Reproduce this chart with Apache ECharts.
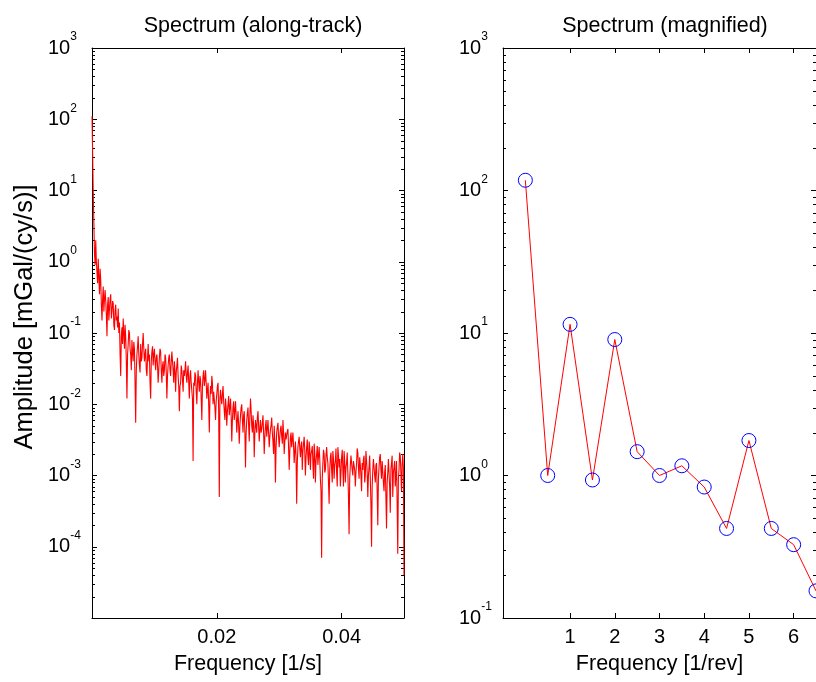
<!DOCTYPE html>
<html>
<head>
<meta charset="utf-8">
<script src="https://cdn.jsdelivr.net/npm/echarts@6/dist/echarts.min.js"></script>
<style>
  html, body { margin: 0; padding: 0; background: #fff; }
  #chart { width: 816px; height: 682px; }
</style>
</head>
<body>
<div id="chart"></div>
<script>
// along-track spectrum, one value every freqStep [1/s]
const freqStep = 0.0001
const alongTrackAmp = [
  110, 35, 9, 3.5, 1.3, 0.9, 2.0, 1.0, 0.7, 0.5,
  1.1, 0.6, 0.35, 0.8, 0.55, 0.25, 0.15, 0.3, 0.45, 0.2,
  0.3, 0.4, 0.28, 0.18, 0.09, 0.25, 0.32, 0.15, 0.22, 0.3,
  0.35, 0.16, 0.2, 0.28, 0.26, 0.13, 0.11, 0.21, 0.25, 0.15,
  0.17, 0.12, 0.22, 0.1, 0.14, 0.05, 0.025, 0.09, 0.12, 0.07,
  0.16, 0.1, 0.06, 0.13, 0.09, 0.04, 0.012, 0.05, 0.07, 0.11,
  0.1, 0.06, 0.05, 0.03, 0.08, 0.055, 0.04, 0.075, 0.06, 0.02,
  0.0055, 0.03, 0.05, 0.065, 0.09, 0.05, 0.035, 0.028, 0.07, 0.04,
  0.045, 0.07, 0.1, 0.06, 0.04, 0.05, 0.06, 0.03, 0.025, 0.045,
  0.07, 0.04, 0.05, 0.02, 0.012, 0.04, 0.055, 0.065, 0.035, 0.05,
  0.06, 0.04, 0.03, 0.045, 0.05, 0.035, 0.02, 0.03, 0.045, 0.06,
  0.055, 0.03, 0.02, 0.035, 0.04, 0.025, 0.03, 0.05, 0.045, 0.028,
  0.012, 0.025, 0.035, 0.045, 0.05, 0.03, 0.025, 0.04, 0.055, 0.04,
  0.03, 0.02, 0.04, 0.03, 0.015, 0.028, 0.035, 0.045, 0.025, 0.018,
  0.008, 0.018, 0.02, 0.035, 0.03, 0.022, 0.015, 0.03, 0.025, 0.03,
  0.04, 0.025, 0.02, 0.028, 0.035, 0.02, 0.012, 0.025, 0.03, 0.02,
  0.02, 0.012, 0.0016, 0.02, 0.018, 0.028, 0.025, 0.015, 0.01, 0.02,
  0.03, 0.02, 0.015, 0.025, 0.022, 0.012, 0.006, 0.018, 0.025, 0.03,
  0.018, 0.022, 0.03, 0.02, 0.012, 0.016, 0.02, 0.01, 0.004, 0.012,
  0.018, 0.014, 0.025, 0.02, 0.01, 0.015, 0.015, 0.009, 0.006, 0.011,
  0.014, 0.018, 0.02, 0.008, 0.0005, 0.012, 0.016, 0.012, 0.01, 0.014,
  0.018, 0.011, 0.008, 0.006, 0.012, 0.009, 0.005, 0.008, 0.01, 0.013,
  0.007, 0.009, 0.012, 0.007, 0.003, 0.006, 0.009, 0.011, 0.006, 0.008,
  0.011, 0.007, 0.004, 0.006, 0.008, 0.005, 0.0028, 0.005, 0.007, 0.009,
  0.01, 0.006, 0.004, 0.007, 0.008, 0.004, 0.0013, 0.004, 0.006, 0.0075,
  0.009, 0.005, 0.003, 0.007, 0.012, 0.008, 0.005, 0.004, 0.007, 0.005,
  0.0018, 0.004, 0.006, 0.005, 0.004, 0.0065, 0.008, 0.005, 0.003, 0.0045,
  0.006, 0.004, 0.0045, 0.0055, 0.007, 0.004, 0.002, 0.0035, 0.005, 0.006,
  0.0035, 0.0045, 0.006, 0.004, 0.0025, 0.0035, 0.0045, 0.005, 0.0065, 0.004,
  0.003, 0.002, 0.005, 0.003, 0.0008, 0.0025, 0.004, 0.0048, 0.0055, 0.0035,
  0.0025, 0.0035, 0.0045, 0.005, 0.0035, 0.0028, 0.006, 0.004, 0.002, 0.003,
  0.004, 0.0032, 0.003, 0.0042, 0.0045, 0.0025, 0.0012, 0.0022, 0.0035, 0.004,
  0.0025, 0.0032, 0.004, 0.0026, 0.0015, 0.0022, 0.003, 0.0018, 0.0004, 0.0015,
  0.0025, 0.003, 0.0035, 0.0024, 0.0018, 0.0026, 0.003, 0.0012, 0.0022, 0.0028,
  0.0035, 0.0022, 0.001, 0.0018, 0.0025, 0.0032, 0.0018, 0.0014, 0.003, 0.0024,
  0.0012, 0.002, 0.0022, 0.0026, 0.0015, 0.0009, 0.0028, 0.0021, 0.0008, 0.0016,
  0.002, 0.0026, 0.0014, 0.0019, 0.0025, 0.0017, 0.0009, 0.0006, 0.00007, 0.0009,
  0.0015, 0.0023, 0.002, 0.0011, 0.0012, 0.0019, 0.0025, 0.0018, 0.0015, 0.0008,
  0.0004, 0.0012, 0.0018, 0.0021, 0.0012, 0.0008, 0.0022, 0.0017, 0.0009, 0.0014,
  0.0016, 0.0024, 0.0011, 0.0007, 0.0025, 0.0019, 0.0013, 0.0017, 0.0007, 0.0011,
  0.0018, 0.0023, 0.0012, 0.0007, 0.0022, 0.0016, 0.0008, 0.0013, 0.0015, 0.0021,
  0.0011, 0.0005, 0.00015, 0.0009, 0.0014, 0.0019, 0.002, 0.0012, 0.001, 0.0016,
  0.0017, 0.0012, 0.0007, 0.0011, 0.0015, 0.0024, 0.0021, 0.0013, 0.0009, 0.0018,
  0.0014, 0.001, 0.0006, 0.0015, 0.0012, 0.0017, 0.0019, 0.0008, 0.001, 0.0022,
  0.0016, 0.0011, 0.0005, 0.001, 0.0013, 0.0019, 0.0009, 0.0004, 0.0001, 0.0007,
  0.0012, 0.0017, 0.0018, 0.001, 0.0008, 0.0014, 0.0015, 0.0006, 0.0002, 0.0009,
  0.0013, 0.0018, 0.002, 0.0012, 0.0009, 0.0016, 0.0015, 0.0008, 0.0006, 0.0011,
  0.0014, 0.0005, 0.00018, 0.0008, 0.0011, 0.0017, 0.0018, 0.0007, 0.0003, 0.0012,
  0.0015, 0.0019, 0.0005, 0.0011, 0.0013, 0.0016, 0.0007, 0.001, 0.0016, 0.0004,
  0.00008, 0.0009, 0.0012, 0.0021, 0.0019, 0.0011, 0.0006, 0.0014, 0.002, 0.0013,
  0.00004
]

// magnified spectrum, frequency in 1/rev
const revFreq = [0, 0.5, 1, 1.5, 2, 2.5, 3, 3.5, 4, 4.5, 5, 5.5, 6, 6.5]
const revAmp = [118, 1.0, 11.5, 0.93, 9.0, 1.47, 1.0, 1.17, 0.83, 0.425, 1.76, 0.425, 0.327, 0.155]

// tick positions
const leftXTicks = [0.02, 0.04]
const rightXTicks = [1, 2, 3, 4, 5, 6]
const leftYRange = [1e-5, 1e3]
const rightYRange = [1e-1, 1e3]
const leftXRange = [0, 0.05]
const rightXRange = [-0.5, 6.5]

const alongTrackData = alongTrackAmp.map((v, i) => [+(i * freqStep).toFixed(4), v])
const revData = revFreq.map((f, i) => [f, revAmp[i]])

// 2..9 x 10^k minor ticks for a log axis
function minorTicks(range, xMin) {
  const out = []
  const lo = Math.round(Math.log10(range[0]))
  const hi = Math.round(Math.log10(range[1]))
  for (let e = lo; e < hi; e++) {
    for (let m = 2; m <= 9; m++) out.push([xMin, m * Math.pow(10, e)])
  }
  return out
}

function minorTickRender(xMin, xMax) {
  return function (params, api) {
    const v = api.value(1)
    const a = api.coord([xMin, v])
    const b = api.coord([xMax, v])
    const y = Math.round(a[1]) + 0.5
    return {
      type: 'group',
      children: [
        { type: 'line', shape: { x1: a[0], y1: y, x2: a[0] + 3, y2: y }, style: { stroke: '#000', lineWidth: 1 } },
        { type: 'line', shape: { x1: b[0] - 3, y1: y, x2: b[0], y2: y }, style: { stroke: '#000', lineWidth: 1 } }
      ]
    }
  }
}

const font = 'Liberation Sans, Arial, Helvetica, sans-serif'

// 10^n labels
const logLabel = {
  show: true,
  align: 'left',
  margin: 44,
  fontFamily: font,
  formatter: function (value) {
    const e = Math.round(Math.log10(value))
    if (e === -5) return ''
    return '{b|10}{e|' + e + '}'
  },
  rich: {
    b: { fontSize: 20, lineHeight: 34, color: '#000', fontFamily: font },
    e: { fontSize: 12, lineHeight: 12, verticalAlign: 'top', color: '#000', fontFamily: font }
  }
}

const axisLine = { show: true, onZero: false, lineStyle: { color: '#000', width: 1 } }
const axisTick = { show: true, inside: true, length: 5, lineStyle: { color: '#000', width: 1 } }

function xAxisPair(gridIndex, range, ticks, name) {
  return [
    {
      gridIndex, type: 'value', position: 'bottom', min: range[0], max: range[1],
      name, nameLocation: 'middle', nameGap: 35,
      nameTextStyle: { fontSize: 21.5, color: '#000', fontFamily: font },
      axisLine, splitLine: { show: false },
      axisTick: Object.assign({ customValues: ticks }, axisTick),
      axisLabel: { customValues: ticks, fontSize: 20, color: '#000', margin: 9, fontFamily: font }
    },
    {
      gridIndex, type: 'value', position: 'top', min: range[0], max: range[1],
      axisLine, splitLine: { show: false },
      axisTick: Object.assign({ customValues: ticks }, axisTick),
      axisLabel: { show: false }
    }
  ]
}

function yAxisPair(gridIndex, range, name) {
  const left = {
    gridIndex, type: 'log', logBase: 10, position: 'left', min: range[0], max: range[1],
    axisLine, axisTick, splitLine: { show: false }, axisLabel: logLabel
  }
  if (name) {
    left.name = name
    left.nameLocation = 'middle'
    left.nameGap = 54
    left.nameTextStyle = { fontSize: 25.5, color: '#000', fontFamily: font, padding: [0, 0, 0, 32] }
  }
  return [
    left,
    {
      gridIndex, type: 'log', logBase: 10, position: 'right', min: range[0], max: range[1],
      axisLine, axisTick, splitLine: { show: false }, axisLabel: { show: false }
    }
  ]
}

const myChart = echarts.init(document.getElementById('chart'), null, { renderer: 'canvas' })

myChart.setOption({
  backgroundColor: '#fff',
  animation: false,
  title: [
    { text: 'Spectrum (along-track)', left: 248, top: 10, textAlign: 'center',
      textStyle: { fontSize: 21.5, fontWeight: 'normal', color: '#000', fontFamily: font } },
    { text: 'Spectrum (magnified)', left: 660, top: 10, textAlign: 'center',
      textStyle: { fontSize: 21.5, fontWeight: 'normal', color: '#000', fontFamily: font } }
  ],
  grid: [
    { left: 92, right: 412, top: 48, bottom: 64 },
    { left: 503, right: -1, top: 48, bottom: 64 }
  ],
  xAxis: [
    ...xAxisPair(0, leftXRange, leftXTicks, 'Frequency [1/s]'),
    ...xAxisPair(1, rightXRange, rightXTicks, 'Frequency [1/rev]')
  ],
  yAxis: [
    ...yAxisPair(0, leftYRange, 'Amplitude [mGal/(cy/s)]'),
    ...yAxisPair(1, rightYRange)
  ],
  series: [
    {
      type: 'line', xAxisIndex: 0, yAxisIndex: 0, data: alongTrackData,
      showSymbol: false, symbol: 'none', silent: true,
      lineStyle: { color: '#ff0000', width: 1.1 }
    },
    {
      type: 'line', xAxisIndex: 2, yAxisIndex: 2, data: revData,
      symbol: 'circle', symbolSize: 14, silent: true,
      lineStyle: { color: '#ff0000', width: 1 },
      itemStyle: { color: 'rgba(0,0,0,0)', borderColor: '#0000ff', borderWidth: 1 }
    },
    // minor log ticks, both sides of each box
    {
      type: 'custom', xAxisIndex: 0, yAxisIndex: 0, silent: true,
      data: minorTicks(leftYRange, leftXRange[0]),
      renderItem: minorTickRender(leftXRange[0], leftXRange[1])
    },
    {
      type: 'custom', xAxisIndex: 2, yAxisIndex: 2, silent: true,
      data: minorTicks(rightYRange, rightXRange[0]),
      renderItem: minorTickRender(rightXRange[0], rightXRange[1])
    }
  ]
})
</script>
</body>
</html>
